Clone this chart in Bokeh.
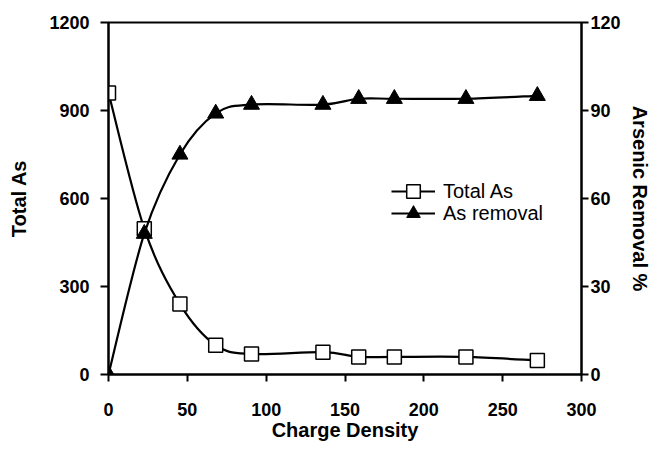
from bokeh.plotting import figure
from bokeh.models import Range1d, LinearAxis, FixedTicker, Legend, LegendItem
from bokeh.embed import file_html
from bokeh.resources import INLINE

# ---- data ----
charge_density = [0, 22.7, 45.3, 68, 90.7, 136, 158.7, 181.3, 226.7, 272]
total_as = [960, 497, 240, 100, 70, 76, 60, 60, 60, 48]
as_removal = [0, 48, 75, 89, 92, 92, 94, 94, 94, 95]
x_ticks = [0, 50, 100, 150, 200, 250, 300]
y_ticks = [0, 300, 600, 900, 1200]
y2_ticks = [0, 30, 60, 90, 120]

FONT = "Liberation Sans"


def smooth_segments(xs, ys):
    """Catmull-Rom style bezier control points (like a smoothed line)."""
    n = len(xs)
    x0, y0, x1, y1, cx0, cy0, cx1, cy1 = [], [], [], [], [], [], [], []
    for i in range(n - 1):
        pm = i - 1 if i > 0 else i
        pp = i + 2 if i + 2 < n else i + 1
        x0.append(xs[i]); y0.append(ys[i])
        x1.append(xs[i + 1]); y1.append(ys[i + 1])
        cx0.append(xs[i] + (xs[i + 1] - xs[pm]) / 6.0)
        cy0.append(ys[i] + (ys[i + 1] - ys[pm]) / 6.0)
        cx1.append(xs[i + 1] - (xs[pp] - xs[i]) / 6.0)
        cy1.append(ys[i + 1] - (ys[pp] - ys[i]) / 6.0)
    return dict(x0=x0, y0=y0, x1=x1, y1=y1, cx0=cx0, cy0=cy0, cx1=cx1, cy1=cy1)


p = figure(width=653, height=445, output_backend="svg", toolbar_location=None,
           x_range=Range1d(0, 300), y_range=Range1d(0, 1200),
           min_border_left=108, min_border_right=68, min_border_top=22, min_border_bottom=71)
p.extra_y_ranges = {"right": Range1d(0, 120)}
p.xgrid.visible = False
p.ygrid.visible = False
p.outline_line_color = "black"
p.outline_line_width = 2
p.background_fill_color = "white"
p.border_fill_color = "white"

# Total As series
s1 = smooth_segments(charge_density, total_as)
p.bezier(x0="x0", y0="y0", x1="x1", y1="y1", cx0="cx0", cy0="cy0", cx1="cx1", cy1="cy1",
         source=s1, line_color="black", line_width=2.2)
r1 = p.scatter(charge_density, total_as, marker="square", size=14,
               fill_color="white", line_color="black", line_width=1.5)

# As removal series
s2 = smooth_segments(charge_density, as_removal)
p.bezier(x0="x0", y0="y0", x1="x1", y1="y1", cx0="cx0", cy0="cy0", cx1="cx1", cy1="cy1",
         source=s2, line_color="black", line_width=2.2, y_range_name="right")
r2 = p.scatter(charge_density, as_removal, marker="triangle", size=16,
               fill_color="black", line_color="black", y_range_name="right")

# legend proxies (line + marker)
l1 = p.line([None], [None], line_color="black", line_width=2.2)
l2 = p.line([None], [None], line_color="black", line_width=2.2)


def make_legend(label, renderers, loc):
    return Legend(items=[LegendItem(label=label, renderers=renderers)],
                  location=loc, border_line_color=None, background_fill_alpha=0,
                  padding=0, margin=0, spacing=0, glyph_width=44, glyph_height=34,
                  label_standoff=8, label_text_font=FONT, label_text_font_size="20px",
                  label_text_color="black", label_height=22)


p.add_layout(make_legend("Total As", [l1, r1], (283, 166)), "center")
p.add_layout(make_legend("As removal", [l2, r2], (283, 144)), "center")


def style_axis(ax, ticks):
    ax.ticker = FixedTicker(ticks=ticks)
    ax.axis_line_width = 2
    ax.axis_line_color = "black"
    ax.major_tick_line_width = 2
    ax.major_tick_line_color = "black"
    ax.major_tick_in = 0
    ax.major_tick_out = 7
    ax.minor_tick_line_color = None
    ax.major_label_text_font = FONT
    ax.major_label_text_font_style = "bold"
    ax.major_label_text_font_size = "18px"
    ax.major_label_text_color = "black"
    ax.axis_label_text_font = FONT
    ax.axis_label_text_font_style = "bold"
    ax.axis_label_text_font_size = "20px"
    ax.axis_label_text_color = "black"


# bottom axis
xa = p.xaxis[0]
style_axis(xa, x_ticks)
xa.major_label_standoff = 21
xa.axis_label = "Charge Density"
xa.axis_label_standoff = 0

# left axis
ya = p.yaxis[0]
style_axis(ya, y_ticks)
ya.major_tick_out = 8
ya.major_label_standoff = 11
ya.axis_label = "Total As"
ya.axis_label_standoff = 16

# right axis
ra = LinearAxis(y_range_name="right")
style_axis(ra, y2_ticks)
ra.major_label_standoff = 2
ra.axis_label = "Arsenic Removal %"
ra.axis_label_standoff = 5
p.add_layout(ra, "right")

open("out.html", "w").write(file_html(p, INLINE))
